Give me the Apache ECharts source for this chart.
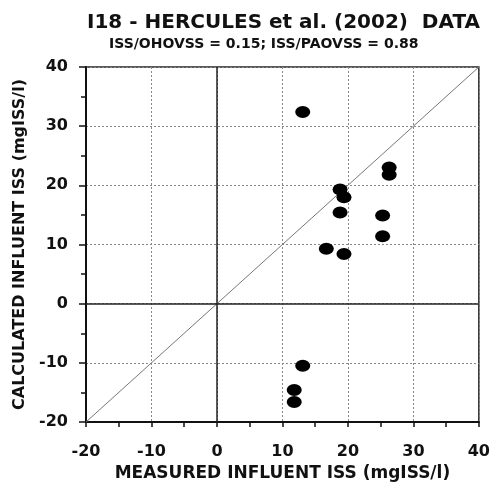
<!DOCTYPE html>
<html>
<head>
<meta charset="utf-8">
<style>
  html, body { margin: 0; padding: 0; background: #fff; }
  #main { width: 493px; height: 488px; }
</style>
<script src="https://cdn.jsdelivr.net/npm/echarts@6.0.0/dist/echarts.min.js"></script>
</head>
<body>
<div id="main"></div>
<script>
// measured vs calculated influent ISS (mgISS/l)
var measured   = [13.1, 26.3, 26.3, 18.8, 19.4, 18.8, 25.3, 25.3, 16.7, 19.4, 13.1, 11.8, 11.8];
var calculated = [32.4, 23.0, 21.8, 19.3, 18.0, 15.4, 14.9, 11.4, 9.3, 8.4, -10.5, -14.6, -16.6];
var oneToOne = [[-20, -20], [40, 40]];
var axisMin = -20, axisMax = 40, axisStep = 10;

var FONT = 'DejaVu Sans';
var chart = echarts.init(document.getElementById('main'));

var points = measured.map(function (m, i) { return [m, calculated[i]]; });

var option = {
  animation: false,
  title: [
    {
      text: 'I18 - HERCULES et al. (2002)  DATA',
      left: 82, top: 8,
      textStyle: { fontFamily: FONT, fontWeight: 'bold', fontSize: 20, color: '#111' }
    },
    {
      text: 'ISS/OHOVSS = 0.15; ISS/PAOVSS = 0.88',
      left: 104, top: 32,
      textStyle: { fontFamily: FONT, fontWeight: 'bold', fontSize: 14, color: '#111' }
    }
  ],
  grid: {
    left: 86, right: 11, top: 67, bottom: 66,
    show: true, borderColor: '#222', borderWidth: 1.5, backgroundColor: '#fff'
  },
  xAxis: {
    type: 'value', min: axisMin, max: axisMax, interval: axisStep,
    name: 'MEASURED INFLUENT ISS (mgISS/l)',
    nameLocation: 'middle', nameGap: 40,
    nameTextStyle: { fontFamily: FONT, fontWeight: 'bold', fontSize: 17, color: '#111' },
    axisLine: { onZero: false, lineStyle: { color: '#111', width: 2 } },
    axisTick: { length: 5, lineStyle: { color: '#111', width: 1.5 } },
    minorTick: { show: true, splitNumber: 2, length: 5, lineStyle: { color: '#111', width: 1.5 } },
    axisLabel: { margin: 22, fontFamily: FONT, fontWeight: 'bold', fontSize: 16, color: '#111' },
    splitLine: { show: true, lineStyle: { color: '#888', type: [2, 2], width: 1 } }
  },
  yAxis: {
    type: 'value', min: axisMin, max: axisMax, interval: axisStep,
    name: 'CALCULATED INFLUENT ISS (mgISS/l)',
    nameLocation: 'middle', nameGap: 56, nameRotate: 90,
    nameTextStyle: { fontFamily: FONT, fontWeight: 'bold', fontSize: 16, color: '#111' },
    axisLine: { onZero: false, lineStyle: { color: '#111', width: 2 } },
    axisTick: { length: 7, lineStyle: { color: '#111', width: 1.5 } },
    minorTick: { show: true, splitNumber: 2, length: 5, lineStyle: { color: '#111', width: 1.5 } },
    axisLabel: { margin: 18, fontFamily: FONT, fontWeight: 'bold', fontSize: 16, color: '#111' },
    splitLine: { show: true, lineStyle: { color: '#888', type: [2, 2], width: 1 } }
  },
  series: [
    {
      type: 'line',
      data: oneToOne,
      symbol: 'none',
      silent: true,
      lineStyle: { color: '#777', width: 1 },
      markLine: {
        symbol: 'none', silent: true, label: { show: false },
        lineStyle: { color: '#222', type: 'solid', width: 1.5 },
        data: [{ xAxis: 0 }, { yAxis: 0 }]
      },
      z: 1
    },
    {
      type: 'scatter',
      data: points,
      symbol: 'circle',
      symbolSize: [15, 12],
      itemStyle: { color: '#000', opacity: 1 },
      z: 3
    }
  ]
};

chart.setOption(option);
</script>
</body>
</html>
